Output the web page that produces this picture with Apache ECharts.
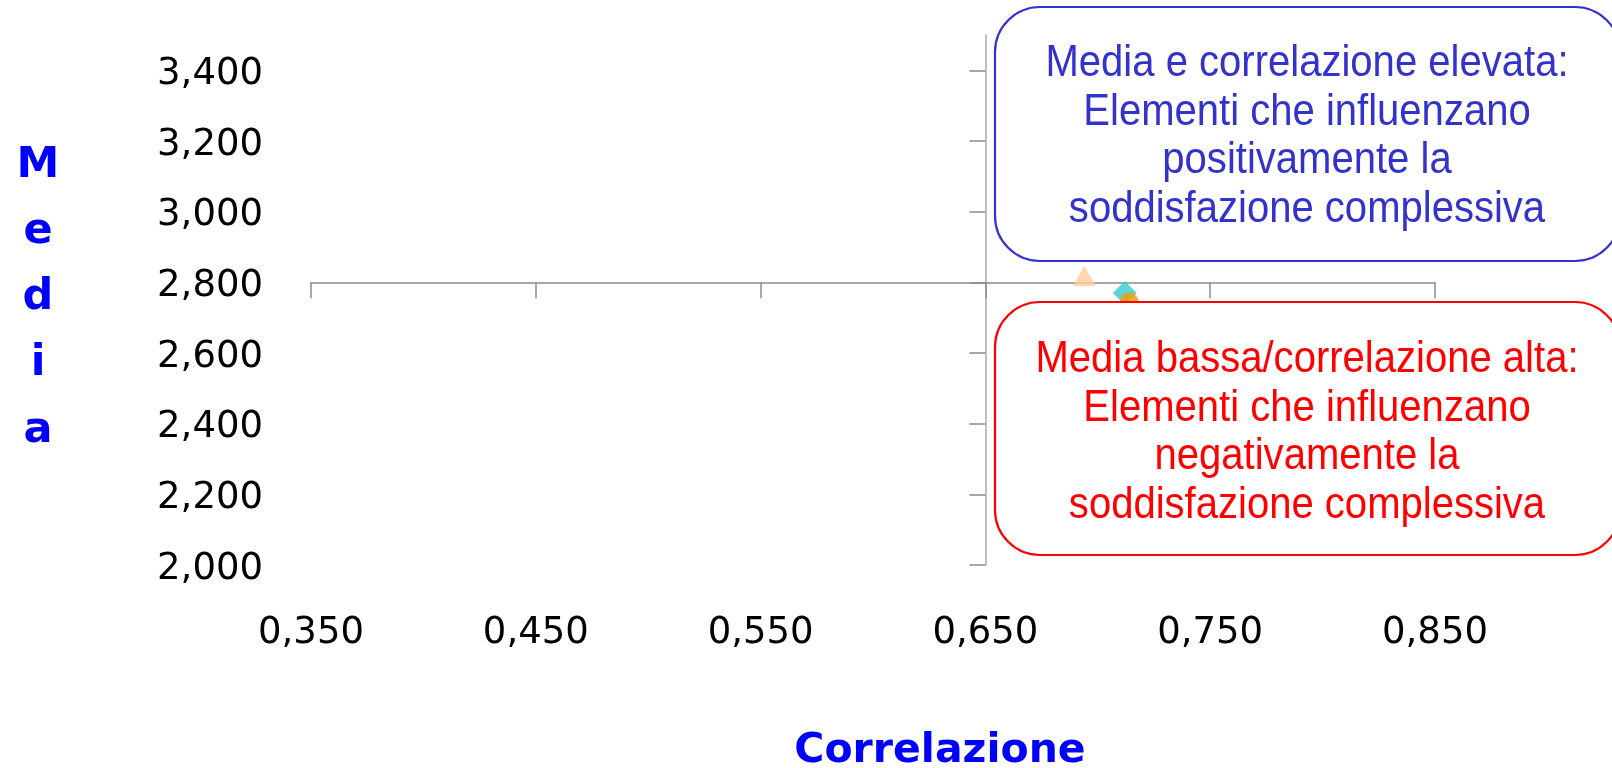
<!DOCTYPE html>
<html>
<head>
<meta charset="utf-8">
<script src="https://cdn.jsdelivr.net/npm/echarts@6/dist/echarts.min.js"></script>
<style>
html,body{margin:0;padding:0;background:#fff;}
#chart{width:1612px;height:768px;}
</style>
</head>
<body>
<div id="chart"></div>
<script>
// ---- data ----
const itemNames = ['Elemento A', 'Elemento B', 'Elemento C'];
const correlazione = [0.694, 0.712, 0.714];
const media = [2.818, 2.770, 2.744];

const xTickValues = [0.35, 0.45, 0.55, 0.65, 0.75, 0.85];
const xTickLabels = ['0,350', '0,450', '0,550', '0,650', '0,750', '0,850'];
const yTickValues = [2.0, 2.2, 2.4, 2.6, 2.8, 3.0, 3.2, 3.4];
const yTickLabels = ['2,000', '2,200', '2,400', '2,600', '2,800', '3,000', '3,200', '3,400'];

const xRange = [0.35, 0.85];
const yRange = [2.0, 3.5];
const xCross = 0.65;   // where the vertical axis crosses
const yCross = 2.8;    // where the horizontal axis crosses

const boxTextHigh = ['Media e correlazione elevata:', 'Elementi che influenzano', 'positivamente la', 'soddisfazione complessiva'];
const boxTextLow = ['Media bassa/correlazione alta:', 'Elementi che influenzano', 'negativamente la', 'soddisfazione complessiva'];

function lookup(values, labels, v) {
  let best = 0, d = Infinity;
  values.forEach((t, i) => { const dd = Math.abs(t - v); if (dd < d) { d = dd; best = i; } });
  return labels[best];
}

// ---- layout ----
const G = { left: 311, top: 35, width: 1124, height: 530 };
const xCrossOffset = -(G.height * (yCross - yRange[0]) / (yRange[1] - yRange[0]));
const yCrossOffset = -(G.width * (xCross - xRange[0]) / (xRange[1] - xRange[0]));

const lineStyle = { color: '#8c8c8c', width: 1.5 };

const chart = echarts.init(document.getElementById('chart'), null, { renderer: 'canvas' });
const pts = correlazione.map((c, i) => [c, media[i]]);

const option = {
  animation: false,
  backgroundColor: '#ffffff',
  grid: { left: G.left, top: G.top, width: G.width, height: G.height, containLabel: false },
  xAxis: [
    {
      type: 'value', min: xRange[0], max: xRange[1], interval: 0.1,
      position: 'bottom', offset: xCrossOffset,
      axisLine: { show: true, onZero: false, lineStyle: lineStyle },
      axisTick: { show: true, length: 16, lineStyle: lineStyle, customValues: xTickValues },
      axisLabel: { show: false },
      splitLine: { show: false }
    },
    {
      type: 'value', min: xRange[0], max: xRange[1], interval: 0.1,
      position: 'bottom', offset: 0,
      axisLine: { show: false }, axisTick: { show: false }, splitLine: { show: false },
      axisLabel: {
        show: true, margin: 50, customValues: xTickValues,
        formatter: v => lookup(xTickValues, xTickLabels, v),
        color: '#000', fontSize: 37, fontFamily: 'DejaVu Sans'
      }
    }
  ],
  yAxis: [
    {
      type: 'value', min: yRange[0], max: yRange[1], interval: 0.2,
      position: 'left', offset: yCrossOffset,
      axisLine: { show: true, onZero: false, lineStyle: { color: '#aaaaaa', width: 1.5 } },
      axisTick: { show: true, length: 16, lineStyle: lineStyle, customValues: yTickValues },
      axisLabel: { show: false },
      splitLine: { show: false }
    },
    {
      type: 'value', min: yRange[0], max: yRange[1], interval: 0.2,
      position: 'left', offset: 0,
      axisLine: { show: false }, axisTick: { show: false }, splitLine: { show: false },
      axisLabel: {
        show: true, margin: 48, customValues: yTickValues,
        formatter: v => '{t|' + lookup(yTickValues, yTickLabels, v) + '}',
        rich: { t: { color: '#000', fontSize: 37, fontFamily: 'DejaVu Sans', padding: [8, 0, 0, 0] } },
        color: '#000', fontSize: 37, fontFamily: 'DejaVu Sans'
      }
    }
  ],
  series: [
    { name: itemNames[0], type: 'scatter', xAxisIndex: 0, yAxisIndex: 0, symbol: 'triangle', symbolSize: [23, 20],
      itemStyle: { color: '#FFCC99' }, data: [pts[0]], z: 3 },
    { name: itemNames[1], type: 'scatter', xAxisIndex: 0, yAxisIndex: 0, symbol: 'diamond', symbolSize: 24,
      itemStyle: { color: '#33CCCC' }, data: [pts[1]], z: 4 },
    { name: itemNames[2], type: 'scatter', xAxisIndex: 0, yAxisIndex: 0, symbol: 'circle', symbolSize: 19,
      itemStyle: { color: '#FF9900' }, data: [pts[2]], z: 5 }
  ],
  graphic: [
    { type: 'rect', z: 100, shape: { x: 995, y: 7, width: 625, height: 254, r: 45 },
      style: { fill: '#ffffff', stroke: '#3333CC', lineWidth: 2.2 } },
    { type: 'text', z: 101, x: 1307, y: 137, scaleX: 0.91,
      style: { text: boxTextHigh.join('\n'), fill: '#3333CC', font: '44px "Liberation Sans", Arial, sans-serif',
        lineHeight: 48.5, align: 'center', verticalAlign: 'middle' } },
    { type: 'rect', z: 100, shape: { x: 995, y: 302, width: 625, height: 253, r: 45 },
      style: { fill: '#ffffff', stroke: '#FF0000', lineWidth: 2.2 } },
    { type: 'text', z: 101, x: 1307, y: 433, scaleX: 0.91,
      style: { text: boxTextLow.join('\n'), fill: '#FF0000', font: '44px "Liberation Sans", Arial, sans-serif',
        lineHeight: 48.5, align: 'center', verticalAlign: 'middle' } },
    { type: 'text', z: 101, x: 38, y: 298,
      style: { text: 'M\ne\nd\ni\na', fill: '#0000FF', font: 'bold 43px "DejaVu Sans", sans-serif',
        lineHeight: 66.3, align: 'center', verticalAlign: 'middle' } },
    { type: 'text', z: 101, x: 940, y: 751,
      style: { text: 'Correlazione', fill: '#0000FF', font: 'bold 41px "DejaVu Sans", sans-serif',
        align: 'center', verticalAlign: 'middle' } }
  ]
};
chart.setOption(option);
</script>
</body>
</html>
